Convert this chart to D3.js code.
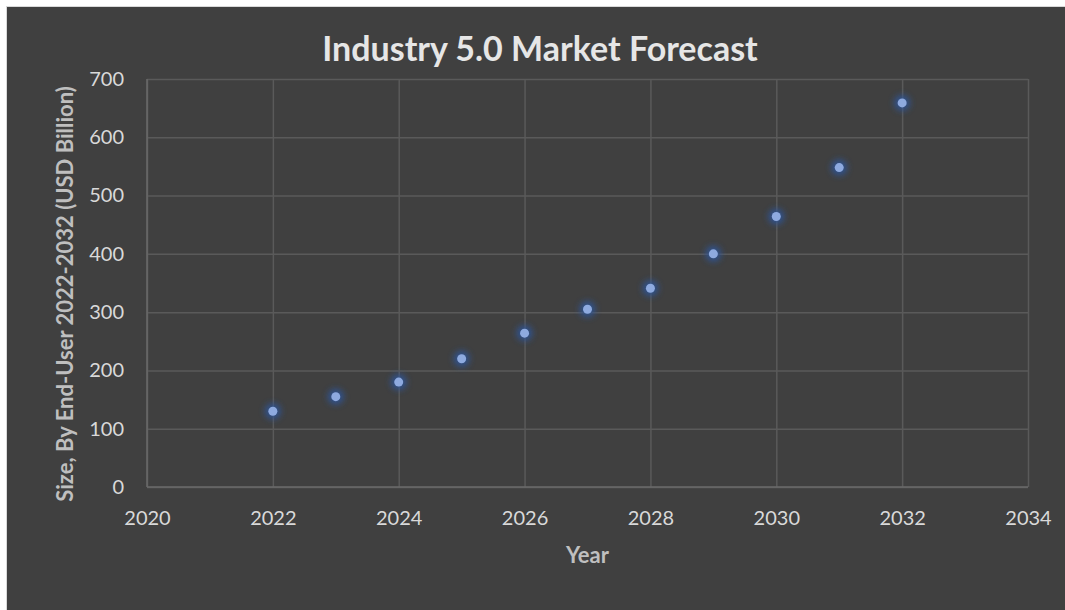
<!DOCTYPE html>
<html>
<head>
<meta charset="utf-8">
<script src="https://cdn.jsdelivr.net/npm/d3@7"></script>
<style>
  html, body { margin: 0; padding: 0; background: #ffffff; }
  svg { display: block; }
</style>
</head>
<body>
<svg id="chart" width="1065" height="610"></svg>
<script>
const years = [2022, 2023, 2024, 2025, 2026, 2027, 2028, 2029, 2030, 2031, 2032]
const sizes = [130, 155, 180, 220, 264, 305, 341, 400, 464, 548, 659]
const xTicks = [2020, 2022, 2024, 2026, 2028, 2030, 2032, 2034]
const yTicks = [0, 100, 200, 300, 400, 500, 600, 700]

const FONT = 'Lato, "Open Sans", sans-serif'
const GRID = '#5a5a5a'

const svg = d3.select('#chart')
const plot = {left: 147, right: 1028, top: 79, bottom: 487}

// chart area, runs off the right and bottom edge like the original crop
svg.append('rect')
    .attr('x', 6.5).attr('y', 6.5)
    .attr('width', 1100).attr('height', 640)
    .attr('fill', '#404040')
    .attr('stroke', '#d9d9d9')

const defs = svg.append('defs')
const glow = defs.append('filter').attr('id', 'glow')
    .attr('x', '-100%').attr('y', '-100%').attr('width', '300%').attr('height', '300%')
glow.append('feGaussianBlur').attr('stdDeviation', 3)

const x = d3.scaleLinear().domain([2020, 2034]).range([plot.left, plot.right])
const y = d3.scaleLinear().domain([0, 700]).range([plot.bottom, plot.top])

// gridlines
svg.append('g')
    .attr('transform', `translate(0,${plot.bottom})`)
    .call(d3.axisBottom(x).tickValues(xTicks).tickSize(-(plot.bottom - plot.top)).tickFormat(''))
    .call(g => g.select('.domain').remove())
    .call(g => g.selectAll('line').attr('stroke', GRID).attr('stroke-width', 1.5))

svg.append('g')
    .attr('transform', `translate(${plot.left},0)`)
    .call(d3.axisLeft(y).tickValues(yTicks).tickSize(-(plot.right - plot.left)).tickFormat(''))
    .call(g => g.select('.domain').remove())
    .call(g => g.selectAll('line').attr('stroke', GRID).attr('stroke-width', 1.5))

// axis lines
svg.append('line')
    .attr('x1', plot.left).attr('x2', plot.left)
    .attr('y1', plot.top).attr('y2', plot.bottom)
    .attr('stroke', '#6a6a6a').attr('stroke-width', 1.5)
svg.append('line')
    .attr('x1', plot.left).attr('x2', plot.right)
    .attr('y1', plot.bottom).attr('y2', plot.bottom)
    .attr('stroke', '#6a6a6a').attr('stroke-width', 1.5)

// tick labels
svg.append('g')
    .attr('transform', `translate(0,${plot.bottom})`)
    .call(d3.axisBottom(x).tickValues(xTicks).tickSize(0).tickPadding(24).tickFormat(d3.format('d')))
    .call(g => g.select('.domain').remove())
    .call(g => g.selectAll('text')
        .attr('fill', '#d9d9d9').style('font-family', FONT).style('font-size', '20px'))

svg.append('g')
    .attr('transform', `translate(${plot.left},0)`)
    .call(d3.axisLeft(y).tickValues(yTicks).tickSize(0).tickPadding(23))
    .call(g => g.select('.domain').remove())
    .call(g => g.selectAll('text')
        .attr('fill', '#d9d9d9').style('font-family', FONT).style('font-size', '20px'))

// markers
const pts = svg.append('g')
pts.selectAll('circle.glow')
    .data(years)
    .join('circle')
    .attr('class', 'glow')
    .attr('cx', d => x(d))
    .attr('cy', (d, i) => y(sizes[i]))
    .attr('r', 8)
    .attr('fill', '#2f5597')
    .attr('opacity', 0.9)
    .attr('filter', 'url(#glow)')
pts.selectAll('circle.dot')
    .data(years)
    .join('circle')
    .attr('class', 'dot')
    .attr('cx', d => x(d))
    .attr('cy', (d, i) => y(sizes[i]))
    .attr('r', 4.5)
    .attr('fill', '#8eaadf')

// titles
svg.append('text')
    .attr('x', 540).attr('y', 61)
    .attr('text-anchor', 'middle')
    .attr('fill', '#e6e6e6')
    .style('font-family', FONT).style('font-weight', 'bold').style('font-size', '34px')
    .text('Industry 5.0 Market Forecast')

svg.append('text')
    .attr('x', (plot.left + plot.right) / 2).attr('y', 563)
    .attr('text-anchor', 'middle')
    .attr('fill', '#bfbfbf')
    .style('font-family', FONT).style('font-weight', 'bold').style('font-size', '22px')
    .text('Year')

svg.append('text')
    .attr('transform', `translate(73,294) rotate(-90)`)
    .attr('text-anchor', 'middle')
    .attr('fill', '#bfbfbf')
    .style('font-family', FONT).style('font-weight', 'bold').style('font-size', '22px')
    .text('Size, By End-User 2022-2032 (USD Billion)')
</script>
</body>
</html>
